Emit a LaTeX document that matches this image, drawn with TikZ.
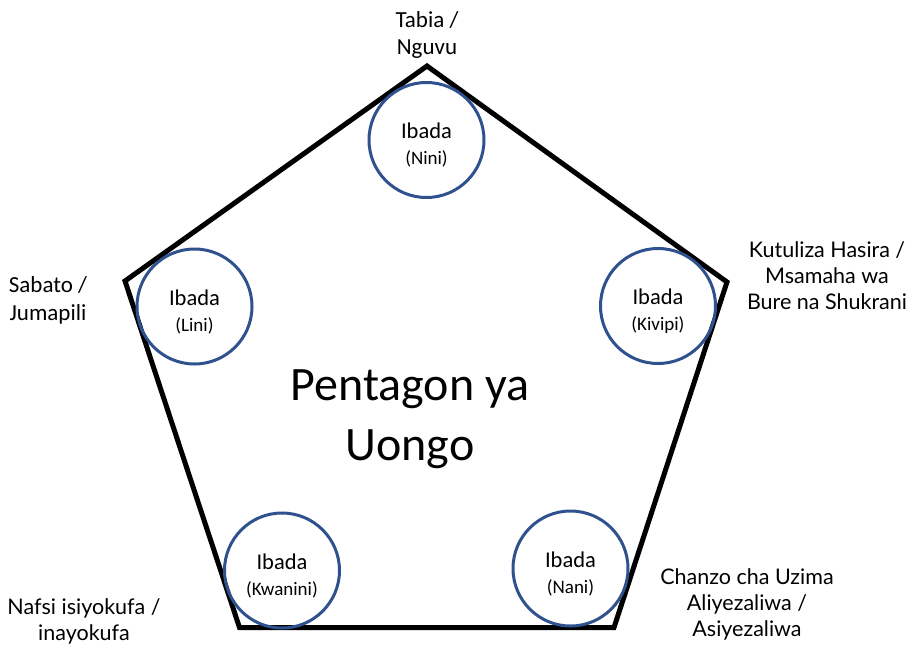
\documentclass[tikz,border=0pt]{standalone}
\usepackage{fontspec}
\setmainfont{Carlito}
\newfontfamily\gill{Lato}
\definecolor{ringblue}{HTML}{2F528F}
\begin{document}
\begin{tikzpicture}[x=1pt,y=-1pt,
  ring/.style={circle, draw=ringblue, line width=3pt, minimum size=115pt, inner sep=0pt},
  pent/.style={draw=black, line width=5pt, line join=miter},
  circtext/.style={font=\fontsize{22.5}{26}\selectfont, align=center, inner sep=0pt},
  lbl/.style={font=\gill\fontsize{21.5}{26}\selectfont, align=center, inner sep=0pt},
  clbl/.style={font=\fontsize{23}{27.5}\selectfont, align=center, inner sep=0pt},
  big/.style={font=\fontsize{48}{60}\selectfont, align=center, inner sep=0pt}]
\useasboundingbox (0,0) rectangle (919,646);
% pentagon corners
\coordinate (p1) at (427,66);
\coordinate (p2) at (727,282);
\coordinate (p3) at (614,627.5);
\coordinate (p4) at (239.5,627.5);
\coordinate (p5) at (125,281);
\draw[pent] (p1) -- (p2) -- (p3) -- (p4) -- (p5) -- cycle;
% circles
\node[ring] (c1) at (426.5,140) {};
\node[ring] (c2) at (194.5,306.5) {};
\node[ring] (c3) at (658,306) {};
\node[ring] (c4) at (282,570.5) {};
\node[ring] (c5) at (570.5,568.5) {};
\node[circtext] (t1) at (426.5,145.5) {Ibada\\{\fontsize{19}{26}\selectfont (Nini)}};
\node[circtext] (t2) at (194.5,312) {Ibada\\{\fontsize{19}{26}\selectfont (Lini)}};
\node[circtext] (t3) at (658,311) {Ibada\\{\fontsize{19}{26}\selectfont (Kivipi)}};
\node[circtext] (t4) at (282,576) {Ibada\\{\fontsize{19}{26}\selectfont (Kwanini)}};
\node[circtext] (t5) at (570.5,574) {Ibada\\{\fontsize{19}{26}\selectfont (Nani)}};
% centre title
\node[big] (title) at (410,419) {Pentagon ya\\Uongo};
% outer labels
\node[clbl] (l1) at (427,35) {Tabia /\\Nguvu};
\node[clbl] (l2) at (48,300.5) {Sabato /\\Jumapili};
\node[lbl] (l3) at (827,276) {Kutuliza Hasira /\\Msamaha wa\\Bure na Shukrani};
\node[lbl] (l4) at (84,621) {Nafsi isiyokufa /\\inayokufa};
\node[lbl] (l5) at (747,604) {Chanzo cha Uzima\\Aliyezaliwa /\\Asiyezaliwa};
\end{tikzpicture}
\end{document}
